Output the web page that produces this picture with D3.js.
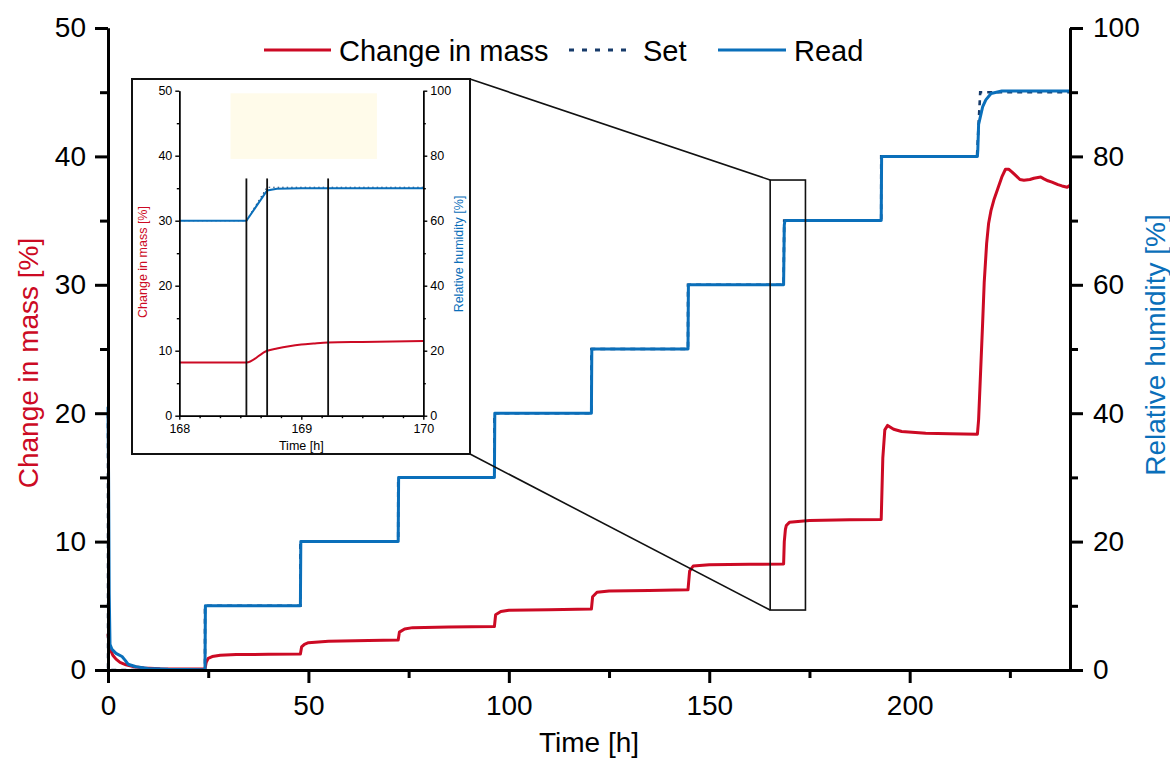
<!DOCTYPE html>
<html><head><meta charset="utf-8">
<script src="https://cdn.jsdelivr.net/npm/d3@7"></script>
<style>
html,body{margin:0;padding:0;background:#fff;}
svg{display:block;font-family:"Liberation Sans",Arial,sans-serif;}
</style></head>
<body>
<svg id="c" width="1170" height="758"></svg>
<script>
// ---------- DATA ----------
const massTime = [0,0.3,0.7,1.2,2,3,4.5,6.5,9,13,24.2,24.5,25,26,28,32,40,48,48.3,49,50,55,65,72.4,72.7,74,76,85,96.4,96.7,98,100,110,120.6,120.9,122,125,135,144.7,145.1,146,150,160,168.55,168.72,169,169.22,170,175,185,192.9,193.3,193.8,194.5,196,198,204,210,216.9,217.2,217.6,218.2,218.6,219.2,219.7,220.3,221,222,223,223.9,224.7,225.5,226.5,227.5,228.5,230,231,232.7,233.5,234.5,235.5,237,238,239.3,240];
const massValue = [2.8,2.0,1.5,1.15,0.85,0.6,0.4,0.25,0.15,0.1,0.08,0.6,0.91,1.05,1.15,1.2,1.22,1.25,1.8,2.0,2.13,2.23,2.3,2.34,2.95,3.2,3.3,3.35,3.38,4.3,4.55,4.65,4.7,4.75,5.7,6.05,6.15,6.2,6.25,7.7,8.1,8.2,8.23,8.25,10.0,10.95,11.25,11.5,11.65,11.7,11.72,16.5,18.7,19.05,18.75,18.57,18.44,18.4,18.37,19.5,22.5,27,30.2,33.2,34.8,35.8,36.6,37.5,38.4,39.0,39.0,38.8,38.5,38.2,38.15,38.2,38.3,38.4,38.25,38.1,38.0,37.8,37.7,37.6,37.75];

const readTime = [0,0.15,0.3,0.5,1,2,3.5,4.3,5,7,10,15,24.2,24.3,48,48.1,72.4,72.5,96.4,96.5,120.6,120.7,144.7,144.8,168.55,168.72,168.85,169,192.9,193.0,216.9,217.0,217.2,218.2,219,220.3,223,240];
const readRH   = [41,30,12,4,3.2,2.6,2.1,1.5,0.9,0.5,0.25,0.12,0.05,10,10,20,20,30,30,40,40,50,50,60,60,69.3,69.9,70,70,80,80,81,85,87.7,88.8,89.8,90.2,90.2];

const setTime = [0,0.02,24.2,24.2,48,48,72.4,72.4,96.4,96.4,120.6,120.6,144.7,144.7,168.55,168.7,192.9,192.9,216.8,217.6,240];
const setRH   = [40,0,0,10,10,20,20,30,30,40,40,50,50,60,60,70,70,80,80,90,90];

// inset (zoom 168 h - 170 h)
const insetMassTime = [168,168.55,168.72,168.8,168.9,169,169.1,169.22,169.5,170];
const insetMassValue = [8.2,8.2,10.0,10.35,10.7,10.95,11.1,11.25,11.35,11.5];
const insetReadTime = [168,168.55,168.72,168.8,169,170];
const insetReadRH = [60,60,69.3,69.8,70,70];
const insetSetTime = [168,168.55,168.72,170];
const insetSetRH = [60,60,70.3,70.3];
const insetMarkers = [168.55,168.72,169.22];
const insetMarkerTop = 36.5;
const insetHighlight = {t0:168.42, t1:169.62, m0:39.5, m1:49.6};

// zoom-box on main chart (data units)
const zoomBox = {t0:165.2, t1:174, m0:4.67, m1:38.16};

const xTicks = [0,50,100,150,200];
const xMinor = [25,75,125,175,225];
const mTicks = [0,10,20,30,40,50];
const mMinor = [5,15,25,35,45];
const rhTicks = [0,20,40,60,80,100];
const rhMinor = [10,30,50,70,90];
const ixTicks = [168,169,170];
const ixMinor = [168+1/6,168+2/6,168.5,168+4/6,168+5/6,169+1/6,169+2/6,169.5,169+4/6,169+5/6];

const legendItems = ["Change in mass","Set","Read"];

// ---------- STYLE ----------
const RED = "#cc0a24", BLUE = "#0a6fba", NAVY = "#173b6a";
const svg = d3.select("#c");

// ---------- MAIN ----------
const L = 108, R = 1070, T = 28, B = 670;
const x = d3.scaleLinear().domain([0,240]).range([L,R]);
const yM = d3.scaleLinear().domain([0,50]).range([B,T]);
const yR = d3.scaleLinear().domain([0,100]).range([B,T]);

const lineM = d3.line().x(d=>x(d[0])).y(d=>yM(d[1]));
const lineR = d3.line().x(d=>x(d[0])).y(d=>yR(d[1]));
const zip = (a,b)=>a.map((v,i)=>[v,b[i]]);

const gData = svg.append("g");
gData.append("path").datum(zip(setTime,setRH)).attr("d",lineR)
  .attr("fill","none").attr("stroke",NAVY).attr("stroke-width",2.6).attr("stroke-dasharray","5,5");
gData.append("path").datum(zip(massTime,massValue)).attr("d",lineM)
  .attr("fill","none").attr("stroke",RED).attr("stroke-width",3).attr("stroke-linejoin","round");
gData.append("path").datum(zip(readTime,readRH)).attr("d",lineR)
  .attr("fill","none").attr("stroke",BLUE).attr("stroke-width",3).attr("stroke-linejoin","round");

function styleAxis(g, w, fs){
  g.select(".domain").attr("stroke","#000").attr("stroke-width",w);
  g.selectAll(".tick line").attr("stroke","#000").attr("stroke-width",w);
  g.selectAll(".tick text").attr("fill","#000").attr("font-size",fs)
    .attr("font-family","'Liberation Sans',Arial,sans-serif");
}
// x axis
const gx = svg.append("g").attr("transform",`translate(0,${B})`)
  .call(d3.axisBottom(x).tickValues(xTicks).tickSize(13).tickSizeOuter(0).tickPadding(12).tickFormat(d3.format("d")));
styleAxis(gx,3,28);
const gxm = svg.append("g").attr("transform",`translate(0,${B})`)
  .call(d3.axisBottom(x).tickValues(xMinor).tickSize(8).tickSizeOuter(0).tickFormat(""));
styleAxis(gxm,3,28);
// left axis
const gl = svg.append("g").attr("transform",`translate(${L},0)`)
  .call(d3.axisLeft(yM).tickValues(mTicks).tickSize(13).tickSizeOuter(0).tickPadding(9).tickFormat(d3.format("d")));
styleAxis(gl,3,28);
const glm = svg.append("g").attr("transform",`translate(${L},0)`)
  .call(d3.axisLeft(yM).tickValues(mMinor).tickSize(8).tickSizeOuter(0).tickFormat(""));
styleAxis(glm,3,28);
// right axis
const gr = svg.append("g").attr("transform",`translate(${R},0)`)
  .call(d3.axisRight(yR).tickValues(rhTicks).tickSize(13).tickSizeOuter(0).tickPadding(10).tickFormat(d3.format("d")));
styleAxis(gr,3,28);
const grm = svg.append("g").attr("transform",`translate(${R},0)`)
  .call(d3.axisRight(yR).tickValues(rhMinor).tickSize(8).tickSizeOuter(0).tickFormat(""));
styleAxis(grm,3,28);

// titles
svg.append("text").attr("x",(L+R)/2).attr("y",752).attr("text-anchor","middle")
  .attr("font-size",28).attr("fill","#000").text("Time [h]");
svg.append("text").attr("transform","translate(38,363) rotate(-90)").attr("text-anchor","middle")
  .attr("font-size",28).attr("fill",RED).text("Change in mass [%]");
svg.append("text").attr("transform","translate(1165,345) rotate(-90)").attr("text-anchor","middle")
  .attr("font-size",28).attr("fill",BLUE).text("Relative humidity [%]");

// legend
const lg = svg.append("g").attr("font-size",29);
lg.append("line").attr("x1",264).attr("x2",331).attr("y1",50).attr("y2",50).attr("stroke",RED).attr("stroke-width",3);
lg.append("text").attr("x",339).attr("y",61).text(legendItems[0]);
lg.append("line").attr("x1",569).attr("x2",626).attr("y1",50).attr("y2",50).attr("stroke",NAVY).attr("stroke-width",3).attr("stroke-dasharray","5,8");
lg.append("text").attr("x",643).attr("y",61).text(legendItems[1]);
lg.append("line").attr("x1",718).attr("x2",786).attr("y1",50).attr("y2",50).attr("stroke",BLUE).attr("stroke-width",3);
lg.append("text").attr("x",794).attr("y",61).text(legendItems[2]);

// ---------- INSET ----------
const FX0 = 132, FY0 = 79, FX1 = 470, FY1 = 454;
const iL = 179.3, iR = 423.3, iT = 90.7, iB = 415.7;
const ix = d3.scaleLinear().domain([168,170]).range([iL,iR]);
const iyM = d3.scaleLinear().domain([0,50]).range([iB,iT]);
const iyR = d3.scaleLinear().domain([0,100]).range([iB,iT]);

// zoom box + connectors
const bx0 = x(zoomBox.t0), bx1 = x(zoomBox.t1), by0 = yM(zoomBox.m1), by1 = yM(zoomBox.m0);
svg.append("rect").attr("x",bx0).attr("y",by0).attr("width",bx1-bx0).attr("height",by1-by0)
  .attr("fill","none").attr("stroke","#111").attr("stroke-width",1.6);
svg.append("line").attr("x1",FX1).attr("y1",FY0).attr("x2",bx0).attr("y2",by0).attr("stroke","#111").attr("stroke-width",1.6);
svg.append("line").attr("x1",FX1).attr("y1",FY1).attr("x2",bx0).attr("y2",by1).attr("stroke","#111").attr("stroke-width",1.6);

const gi = svg.append("g");
gi.append("rect").attr("x",FX0).attr("y",FY0).attr("width",FX1-FX0).attr("height",FY1-FY0)
  .attr("fill","#fff").attr("stroke","#111").attr("stroke-width",2);
gi.append("rect").attr("x",ix(insetHighlight.t0)).attr("y",iyM(insetHighlight.m1))
  .attr("width",ix(insetHighlight.t1)-ix(insetHighlight.t0)).attr("height",iyM(insetHighlight.m0)-iyM(insetHighlight.m1))
  .attr("fill","#fffbea");

const ilR = d3.line().x(d=>ix(d[0])).y(d=>iyR(d[1]));
gi.append("path").datum(zip(insetSetTime,insetSetRH)).attr("d",ilR).attr("fill","none")
  .attr("stroke",NAVY).attr("stroke-width",1.2).attr("stroke-dasharray","1.5,3");
gi.append("path").datum(zip(insetMassTime,insetMassValue)).attr("d",d3.line().curve(d3.curveMonotoneX).x(d=>ix(d[0])).y(d=>iyM(d[1])))
  .attr("fill","none").attr("stroke",RED).attr("stroke-width",2);
gi.append("path").datum(zip(insetReadTime,insetReadRH)).attr("d",ilR).attr("fill","none")
  .attr("stroke",BLUE).attr("stroke-width",2);
gi.selectAll("line.mk").data(insetMarkers).enter().append("line")
  .attr("x1",d=>ix(d)).attr("x2",d=>ix(d)).attr("y1",iyM(insetMarkerTop)).attr("y2",iyM(0))
  .attr("stroke","#111").attr("stroke-width",1.8);

function styleI(g, fs){
  g.select(".domain").attr("stroke","#000").attr("stroke-width",1.4);
  g.selectAll(".tick line").attr("stroke","#000").attr("stroke-width",1.4);
  g.selectAll(".tick text").attr("fill","#000").attr("font-size",fs);
}
const ig1 = gi.append("g").attr("transform",`translate(0,${iB})`)
  .call(d3.axisBottom(ix).tickValues(ixTicks).tickSize(4).tickSizeOuter(0).tickPadding(4).tickFormat(d3.format("d")));
styleI(ig1,12.5);
const ig1m = gi.append("g").attr("transform",`translate(0,${iB})`)
  .call(d3.axisBottom(ix).tickValues(ixMinor).tickSize(2.5).tickSizeOuter(0).tickFormat(""));
styleI(ig1m,12.5);
const ig2 = gi.append("g").attr("transform",`translate(${iL},0)`)
  .call(d3.axisLeft(iyM).tickValues(mTicks).tickSize(4).tickSizeOuter(0).tickPadding(3).tickFormat(d3.format("d")));
styleI(ig2,12.5);
const ig2m = gi.append("g").attr("transform",`translate(${iL},0)`)
  .call(d3.axisLeft(iyM).tickValues(mMinor).tickSize(2.5).tickSizeOuter(0).tickFormat(""));
styleI(ig2m,12.5);
const ig3 = gi.append("g").attr("transform",`translate(${iR},0)`)
  .call(d3.axisRight(iyR).tickValues(rhTicks).tickSize(4).tickSizeOuter(0).tickPadding(3).tickFormat(d3.format("d")));
styleI(ig3,12.5);
const ig3m = gi.append("g").attr("transform",`translate(${iR},0)`)
  .call(d3.axisRight(iyR).tickValues(rhMinor).tickSize(2.5).tickSizeOuter(0).tickFormat(""));
styleI(ig3m,12.5);

gi.append("text").attr("x",(iL+iR)/2).attr("y",450).attr("text-anchor","middle").attr("font-size",12.5).text("Time [h]");
gi.append("text").attr("transform","translate(147,262) rotate(-90)").attr("text-anchor","middle")
  .attr("font-size",12.5).attr("fill",RED).text("Change in mass [%]");
gi.append("text").attr("transform","translate(463,254) rotate(-90)").attr("text-anchor","middle")
  .attr("font-size",12.5).attr("fill",BLUE).text("Relative humidity [%]");
</script>
</body></html>
